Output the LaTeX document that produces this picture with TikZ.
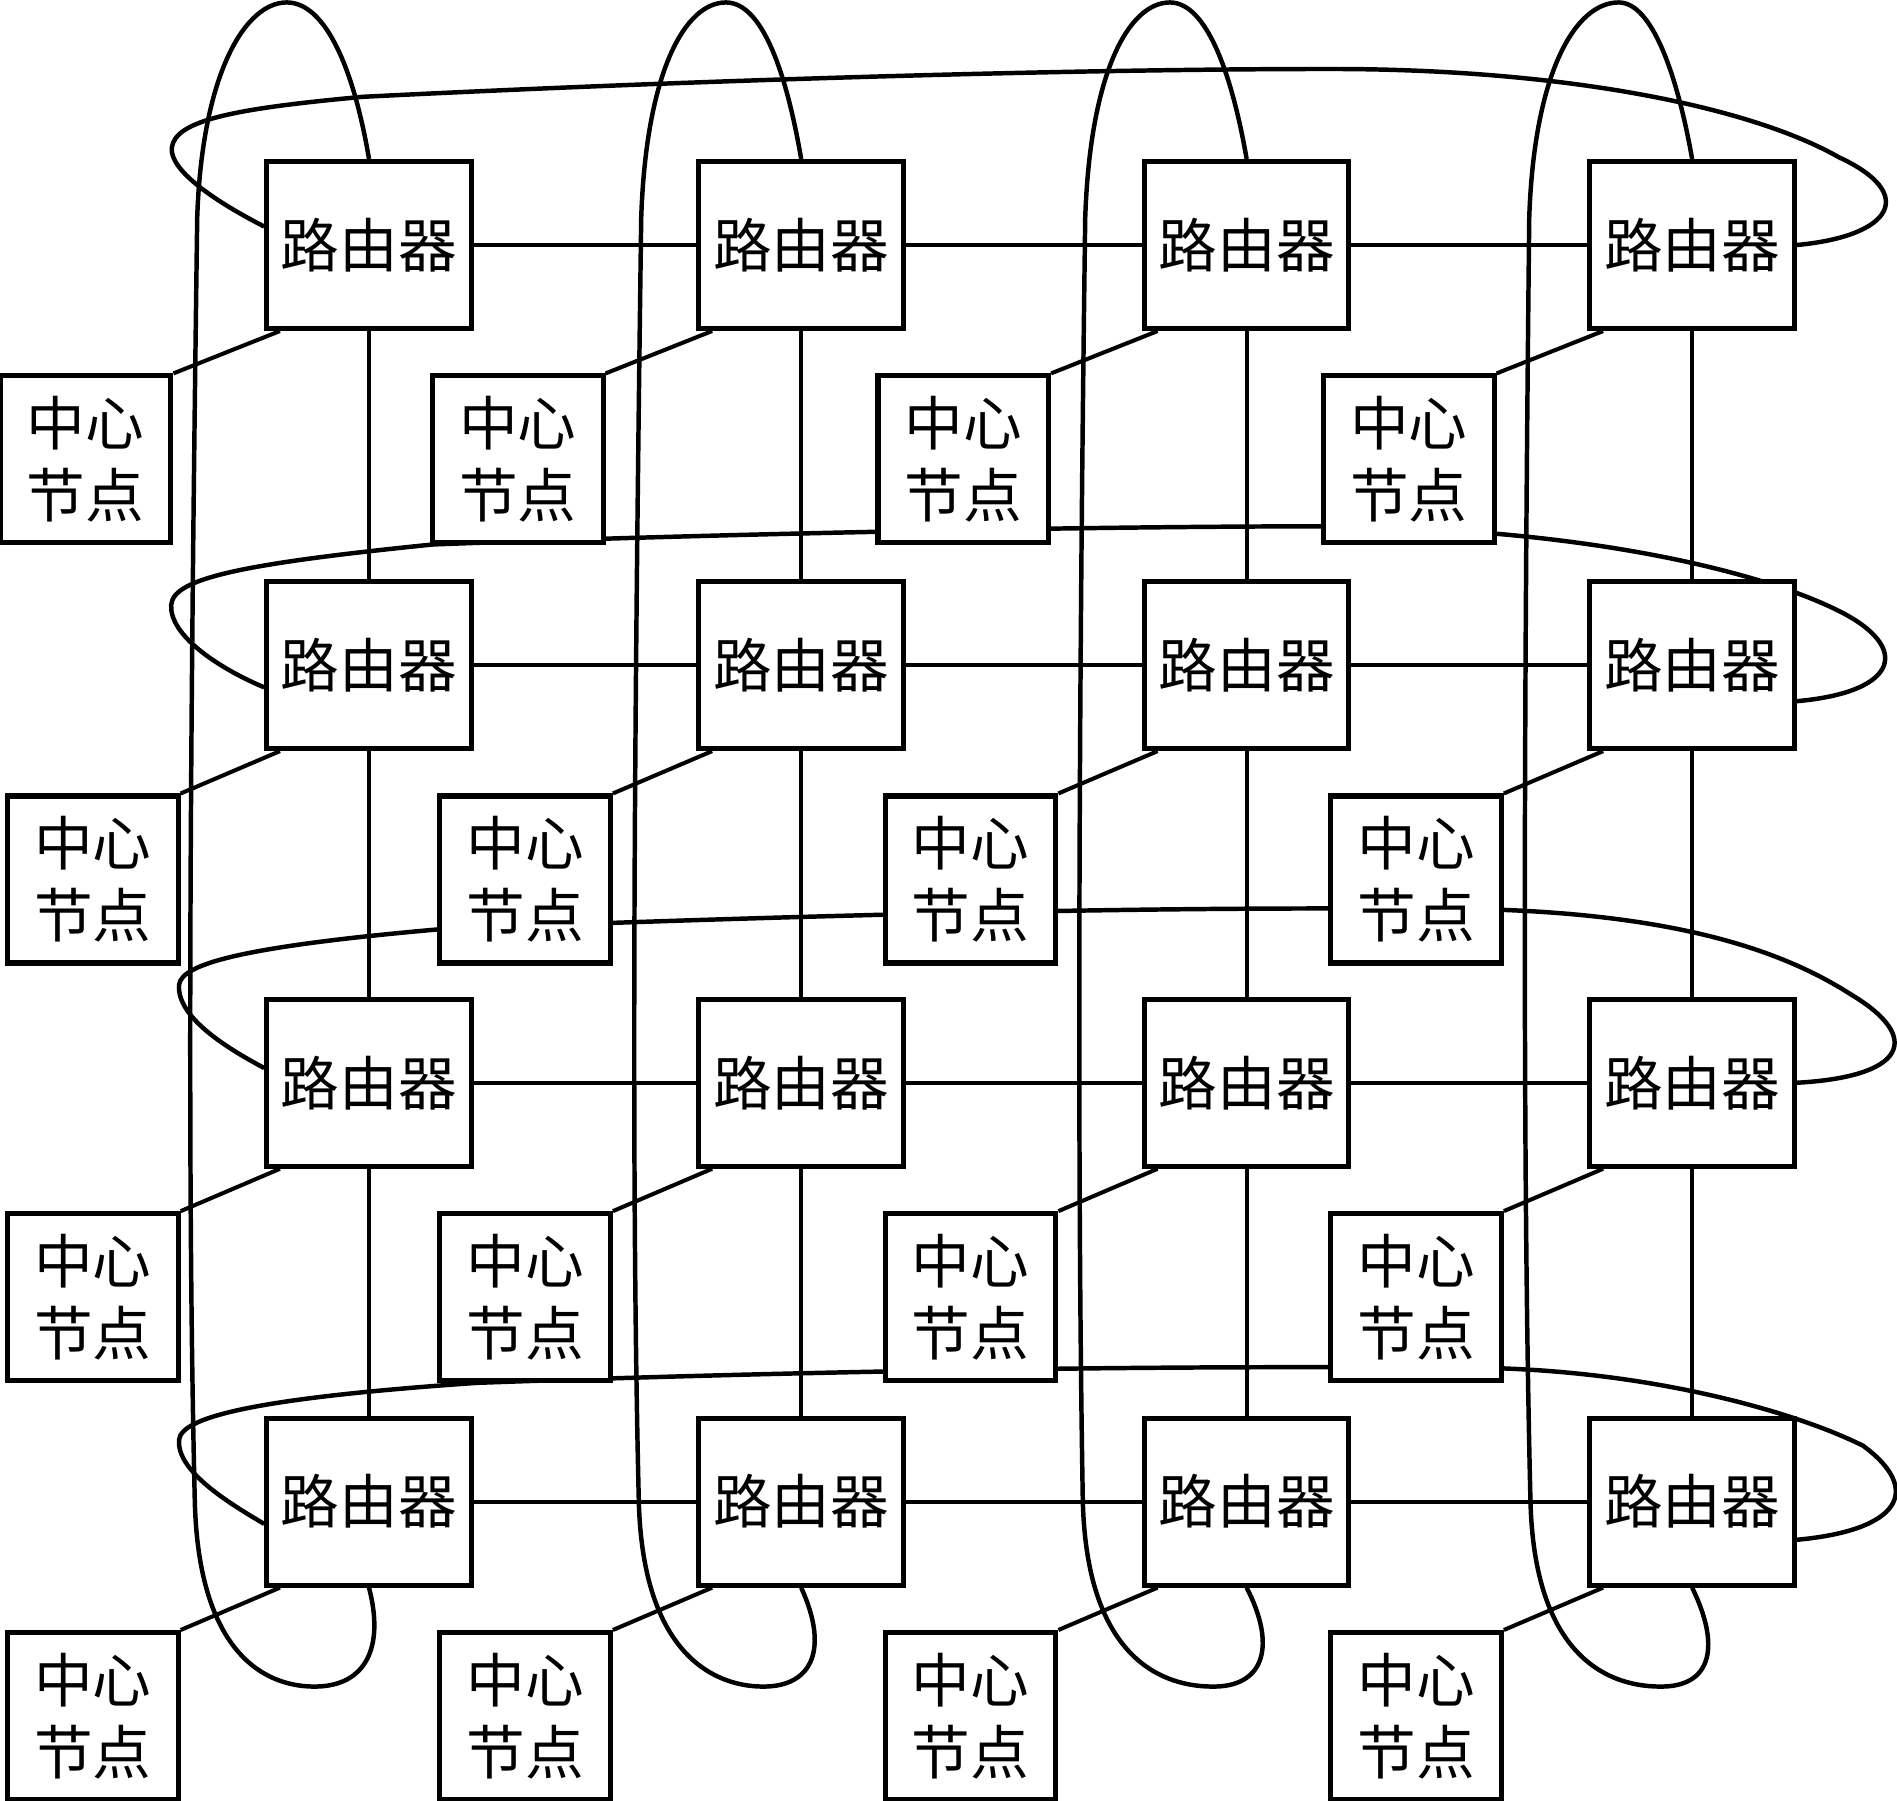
\documentclass[tikz,border=0pt]{standalone}
\usepackage{fontspec}
\newfontfamily\cjk{Noto Sans CJK SC}
\usetikzlibrary{positioning, backgrounds}

\begin{document}
\begin{tikzpicture}[
    every node/.style={draw, fill=white, line width=1.2pt, inner sep=1pt, align=center, font=\cjk\fontsize{13.8}{17}\selectfont},
    router/.style={minimum width=1.69cm, minimum height=1.38cm},
    hub/.style={minimum width=1.41cm, minimum height=1.38cm},
    link/.style={line width=0.95pt},
    wrap/.style={line width=1.05pt}]

\useasboundingbox (0,0) rectangle (15.68,-14.88);

% Router
\node[router] (R11) at (3.05,-2.025) {路由器};
\node[router, right=1.84cm of R11] (R12) {路由器};
\node[router, right=1.95cm of R12] (R13) {路由器};
\node[router, right=1.95cm of R13] (R14) {路由器};

\node[router, below=2.05cm of R11] (R21) {路由器};
\node[router, below=2.05cm of R12] (R22) {路由器};
\node[router, below=2.05cm of R13] (R23) {路由器};
\node[router, below=2.05cm of R14] (R24) {路由器};

\node[router, below=2.03cm of R21] (R31) {路由器};
\node[router, below=2.03cm of R22] (R32) {路由器};
\node[router, below=2.03cm of R23] (R33) {路由器};
\node[router, below=2.03cm of R24] (R34) {路由器};

\node[router, below=2.04cm of R31] (R41) {路由器};
\node[router, below=2.04cm of R32] (R42) {路由器};
\node[router, below=2.04cm of R33] (R43) {路由器};
\node[router, below=2.04cm of R34] (R44) {路由器};

% Knoten
\node[hub, below left=0.35cm and 0.75cm of R11] (H11) {中心\\节点};
\node[hub, below left=0.35cm and 0.75cm of R12] (H12) {中心\\节点};
\node[hub, below left=0.35cm and 0.75cm of R13] (H13) {中心\\节点};
\node[hub, below left=0.35cm and 0.75cm of R14] (H14) {中心\\节点};

\node[hub, below left=0.35cm and 0.69cm of R21] (H21) {中心\\节点};
\node[hub, below left=0.35cm and 0.69cm of R22] (H22) {中心\\节点};
\node[hub, below left=0.35cm and 0.69cm of R23] (H23) {中心\\节点};
\node[hub, below left=0.35cm and 0.69cm of R24] (H24) {中心\\节点};

\node[hub, below left=0.35cm and 0.69cm of R31] (H31) {中心\\节点};
\node[hub, below left=0.35cm and 0.69cm of R32] (H32) {中心\\节点};
\node[hub, below left=0.35cm and 0.69cm of R33] (H33) {中心\\节点};
\node[hub, below left=0.35cm and 0.69cm of R34] (H34) {中心\\节点};

\node[hub, below left=0.35cm and 0.69cm of R41] (H41) {中心\\节点};
\node[hub, below left=0.35cm and 0.69cm of R42] (H42) {中心\\节点};
\node[hub, below left=0.35cm and 0.69cm of R43] (H43) {中心\\节点};
\node[hub, below left=0.35cm and 0.69cm of R44] (H44) {中心\\节点};

\begin{scope}[on background layer]
% Gitter
\draw[link] (R11) -- (R12) -- (R13) -- (R14);
\draw[link] (R21) -- (R22) -- (R23) -- (R24);
\draw[link] (R31) -- (R32) -- (R33) -- (R34);
\draw[link] (R41) -- (R42) -- (R43) -- (R44);
\draw[link] (R11) -- (R21) -- (R31) -- (R41);
\draw[link] (R12) -- (R22) -- (R32) -- (R42);
\draw[link] (R13) -- (R23) -- (R33) -- (R43);
\draw[link] (R14) -- (R24) -- (R34) -- (R44);

% Knoten an Router
\draw[link] (H11.north east) -- ([xshift=0.13cm]R11.south west);
\draw[link] (H12.north east) -- ([xshift=0.13cm]R12.south west);
\draw[link] (H13.north east) -- ([xshift=0.13cm]R13.south west);
\draw[link] (H14.north east) -- ([xshift=0.13cm]R14.south west);
\draw[link] (H21.north east) -- ([xshift=0.13cm]R21.south west);
\draw[link] (H22.north east) -- ([xshift=0.13cm]R22.south west);
\draw[link] (H23.north east) -- ([xshift=0.13cm]R23.south west);
\draw[link] (H24.north east) -- ([xshift=0.13cm]R24.south west);
\draw[link] (H31.north east) -- ([xshift=0.13cm]R31.south west);
\draw[link] (H32.north east) -- ([xshift=0.13cm]R32.south west);
\draw[link] (H33.north east) -- ([xshift=0.13cm]R33.south west);
\draw[link] (H34.north east) -- ([xshift=0.13cm]R34.south west);
\draw[link] (H41.north east) -- ([xshift=0.13cm]R41.south west);
\draw[link] (H42.north east) -- ([xshift=0.13cm]R42.south west);
\draw[link] (H43.north east) -- ([xshift=0.13cm]R43.south west);
\draw[link] (H44.north east) -- ([xshift=0.13cm]R44.south west);

% Ringe je Zeile
\draw[wrap] (R11.170) .. controls (1.75,-1.65) and (1.40,-1.40) .. (1.42,-1.22)
    .. controls (1.45,-1.00) and (1.90,-0.90) .. (3.00,-0.80)
    .. controls (6.00,-0.65) and (9.00,-0.57) .. (11.00,-0.57)
    .. controls (13.00,-0.57) and (14.50,-0.90) .. (15.20,-1.30)
    .. controls (15.85,-1.60) and (15.65,-1.95) .. (R14.east);
\draw[wrap] (R21.192) .. controls (1.80,-5.52) and (1.40,-5.25) .. (1.415,-5.00)
    .. controls (1.43,-4.78) and (2.00,-4.66) .. (3.58,-4.50)
    .. controls (6.00,-4.41) and (9.00,-4.35) .. (11.00,-4.35)
    .. controls (13.00,-4.36) and (14.50,-4.70) .. (15.20,-5.05)
    .. controls (15.80,-5.35) and (15.70,-5.72) .. (R24.-19);
\draw[wrap] (R31.172) .. controls (1.85,-8.65) and (1.46,-8.40) .. (1.48,-8.14)
    .. controls (1.50,-7.96) and (2.05,-7.82) .. (3.64,-7.68)
    .. controls (7.00,-7.55) and (10.00,-7.48) .. (12.41,-7.52)
    .. controls (14.00,-7.58) and (14.80,-7.90) .. (15.30,-8.22)
    .. controls (15.90,-8.58) and (15.75,-8.90) .. (R34.east);
\draw[wrap] (R41.192) .. controls (1.85,-12.40) and (1.46,-12.15) .. (1.48,-11.90)
    .. controls (1.50,-11.70) and (2.20,-11.55) .. (3.94,-11.43)
    .. controls (7.00,-11.32) and (10.00,-11.28) .. (12.41,-11.31)
    .. controls (13.80,-11.36) and (14.90,-11.70) .. (15.40,-11.95)
    .. controls (15.90,-12.32) and (15.70,-12.65) .. (R44.-20);

% Ringe je Spalte
\draw[wrap] (R11.north) .. controls (2.93,-0.60) and (2.70,-0.02) .. (2.37,-0.02)
    .. controls (2.03,-0.02) and (1.67,-0.60) .. (1.63,-1.80)
    .. controls (1.58,-5.50) and (1.54,-9.50) .. (1.61,-12.40)
    .. controls (1.64,-13.70) and (2.22,-13.95) .. (2.62,-13.94)
    .. controls (3.02,-13.93) and (3.18,-13.62) .. (R41.south);
\draw[wrap] (R12.north) .. controls (6.50,-0.60) and (6.30,-0.02) .. (6.00,-0.02)
    .. controls (5.66,-0.02) and (5.34,-0.60) .. (5.30,-1.80)
    .. controls (5.25,-5.50) and (5.21,-9.50) .. (5.28,-12.40)
    .. controls (5.31,-13.70) and (5.93,-13.95) .. (6.33,-13.94)
    .. controls (6.72,-13.93) and (6.85,-13.62) .. (R42.south);
\draw[wrap] (R13.north) .. controls (10.18,-0.60) and (9.97,-0.02) .. (9.67,-0.02)
    .. controls (9.33,-0.02) and (9.01,-0.60) .. (8.97,-1.80)
    .. controls (8.92,-5.50) and (8.90,-9.50) .. (8.95,-12.40)
    .. controls (8.98,-13.70) and (9.60,-13.95) .. (10.05,-13.94)
    .. controls (10.45,-13.93) and (10.55,-13.60) .. (R43.south);
\draw[wrap] (R14.north) .. controls (13.86,-0.60) and (13.65,-0.02) .. (13.38,-0.02)
    .. controls (13.02,-0.02) and (12.68,-0.60) .. (12.64,-1.80)
    .. controls (12.60,-5.50) and (12.58,-9.50) .. (12.65,-12.40)
    .. controls (12.68,-13.70) and (13.30,-13.95) .. (13.75,-13.94)
    .. controls (14.15,-13.93) and (14.22,-13.60) .. (R44.south);
\end{scope}

\end{tikzpicture}
\end{document}
